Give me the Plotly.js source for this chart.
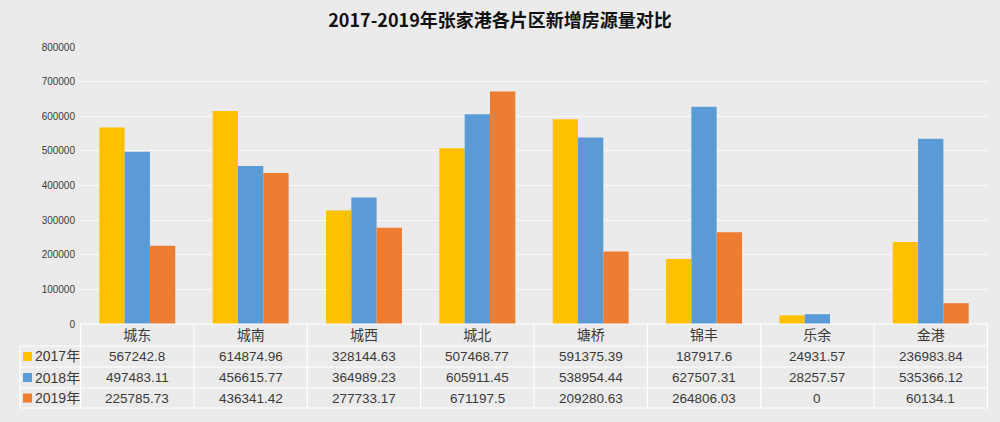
<!DOCTYPE html>
<html>
<head>
<meta charset="utf-8">
<script src="https://cdn.plot.ly/plotly-3.0.1.min.js"></script>
<style>html,body{margin:0;padding:0;background:#ebebeb;}#chart{width:1000px;height:422px;}</style>
</head>
<body>
<div id="chart"></div>
<script>
const categories = ['城东', '城南', '城西', '城北', '塘桥', '锦丰', '乐余', '金港'];
const seriesNames = ['2017年', '2018年', '2019年'];
const values2017 = [567242.8, 614874.96, 328144.63, 507468.77, 591375.39, 187917.6, 24931.57, 236983.84];
const values2018 = [497483.11, 456615.77, 364989.23, 605911.45, 538954.44, 627507.31, 28257.57, 535366.12];
const values2019 = [225785.73, 436341.42, 277733.17, 671197.5, 209280.63, 264806.03, 0, 60134.1];
const seriesColors = ['#FFC000', '#5B9BD5', '#ED7D31'];
const yTickValues = [0, 100000, 200000, 300000, 400000, 500000, 600000, 700000, 800000];

const allSeries = [values2017, values2018, values2019];
const textColor = '#3a3a3a';
const W = 1000, H = 422;
const M = {l: 80, r: 12, t: 47, b: 98};
const plotW = W - M.l - M.r, plotH = H - M.t - M.b;
const axisY = H - M.b;
// pixel -> paper helpers (layout positions only)
const py = p => (axisY - p) / plotH;
const px = p => (p - M.l) / plotW;

const traces = allSeries.map((vals, i) => ({
  type: 'bar', name: seriesNames[i], x: categories, y: vals,
  marker: {color: seriesColors[i]}, showlegend: false, hoverinfo: 'x+y+name'
}));

const rowLines = [346, 367, 388, 408];
const rowCenters = [356.5, 377.5, 398];
const shapes = [];
const annotations = [];
// horizontal table lines
rowLines.forEach(p => shapes.push({type: 'line', xref: 'paper', yref: 'paper', x0: px(20), x1: 1, y0: py(p), y1: py(p), line: {color: '#ffffff', width: 1.2}, layer: 'above'}));
// top of the header row (axis line)
shapes.push({type: 'line', xref: 'paper', yref: 'paper', x0: 0, x1: 1, y0: 0, y1: 0, line: {color: '#ffffff', width: 1.2}});
// vertical column lines
for (let i = 0; i <= categories.length; i++) {
  shapes.push({type: 'line', xref: 'x', yref: 'paper', x0: i - 0.5, x1: i - 0.5, y0: 0, y1: py(408), line: {color: '#ffffff', width: 1.2}});
}
shapes.push({type: 'line', xref: 'paper', yref: 'paper', x0: px(20), x1: px(20), y0: py(346), y1: py(408), line: {color: '#ffffff', width: 1.2}});

// legend keys inside the table
seriesNames.forEach((n, i) => {
  const c = rowCenters[i];
  shapes.push({type: 'rect', xref: 'paper', yref: 'paper', x0: px(23), x1: px(32), y0: py(c - 4.5), y1: py(c + 4.5), fillcolor: seriesColors[i], line: {width: 0}});
  annotations.push({xref: 'paper', yref: 'paper', x: px(33), y: py(c), xanchor: 'left', yanchor: 'middle', showarrow: false, text: n, font: {family: 'Liberation Sans, Noto Sans CJK SC, sans-serif', size: 14, color: textColor}});
});
// table values
allSeries.forEach((vals, i) => {
  vals.forEach((v, j) => {
    annotations.push({xref: 'x', yref: 'paper', x: categories[j], y: py(rowCenters[i]), xanchor: 'center', yanchor: 'middle', showarrow: false, text: String(v), font: {family: 'Liberation Sans, sans-serif', size: 13.5, color: textColor}});
  });
});

const layout = {
  width: W, height: H,
  margin: M,
  paper_bgcolor: '#ebebeb', plot_bgcolor: '#ebebeb',
  title: {text: '<b>2017-2019年张家港各片区新增房源量对比</b>', x: 0.5, xref: 'container', xanchor: 'center', y: 0.952, yanchor: 'middle',
    font: {family: 'Noto Sans CJK SC, sans-serif', size: 18, color: '#111111'}},
  barmode: 'group', bargap: 0.33, bargroupgap: 0,
  xaxis: {type: 'category', showgrid: false, zeroline: false, showline: false, ticks: '',
    tickfont: {family: 'Noto Sans CJK SC, sans-serif', size: 14, color: textColor}, ticklabelstandoff: 1},
  yaxis: {range: [0, 800000], tickvals: yTickValues, ticktext: yTickValues.map(String), showgrid: true, gridcolor: '#fafafa', gridwidth: 1,
    zeroline: false, showline: false, ticks: '', tickfont: {family: 'Liberation Sans, sans-serif', size: 10, color: textColor}, ticklabelstandoff: 4},
  shapes: shapes, annotations: annotations, showlegend: false
};
Plotly.newPlot('chart', traces, layout, {displayModeBar: false, staticPlot: true});
</script>
</body>
</html>
